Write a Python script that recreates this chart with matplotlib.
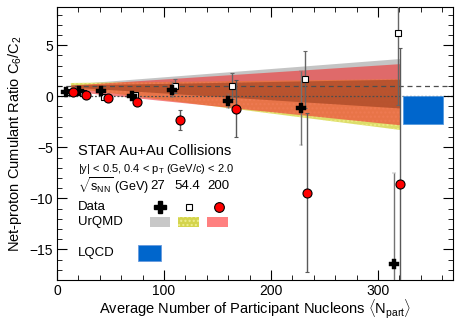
import matplotlib
matplotlib.use("Agg")
import matplotlib.pyplot as plt
import numpy as np
from matplotlib.patches import Rectangle
from matplotlib.ticker import MultipleLocator

plt.rcParams["font.family"] = ["Liberation Sans", "DejaVu Sans"]
plt.rcParams["mathtext.fontset"] = "custom"
plt.rcParams["mathtext.rm"] = "Liberation Sans"
plt.rcParams["mathtext.it"] = "Liberation Sans:italic"
plt.rcParams["axes.unicode_minus"] = True

# 27 GeV data (crosses)
npart_27 = [8, 21, 41, 70, 108, 160, 228, 315]
c6c2_27 = [0.42, 0.52, 0.49, 0.03, 0.66, -0.45, -1.15, -16.4]
err_27 = [0.15, 0.15, 0.2, 0.25, 0.7, 0.7, 3.6, 8.9]

# 54.4 GeV data (open squares)
npart_54 = [12, 24, 44, 73, 110, 164, 232, 319]
c6c2_54 = [0.4, 0.3, -0.1, 0.1, 0.98, 1.0, 1.67, 6.15]
err_54 = [0.15, 0.15, 0.2, 0.3, 0.7, 1.3, 2.8, 7.0]

# 200 GeV data (red circles)
npart_200 = [15, 27, 48, 75, 115, 167, 234, 321]
c6c2_200 = [0.42, 0.17, -0.17, -0.56, -2.3, -1.2, -9.44, -8.6]
err_200 = [0.15, 0.15, 0.2, 0.25, 1.0, 2.8, 7.8, 13.3]

# UrQMD bands: [low, high] at the two ends of the Npart range
band_x = [13, 321]
urqmd_27_lo = [0.9, -1.15]
urqmd_27_hi = [1.2, 3.7]
urqmd_54_lo = [0.8, -3.3]
urqmd_54_hi = [1.3, 1.67]
urqmd_200_lo = [0.5, -2.8]
urqmd_200_hi = [1.1, 3.2]

# LQCD box
lqcd_x = [323, 361]
lqcd_y = [-2.75, 0.0]

fig = plt.figure(figsize=(4.63, 3.23), dpi=100)
ax = fig.add_axes([0.123, 0.133, 0.855, 0.844])

ax.fill_between(band_x, urqmd_27_lo, urqmd_27_hi, color="#c4c4c4", lw=0, zorder=1)
ax.fill_between(band_x, urqmd_54_lo, urqmd_54_hi, facecolor="#d8d850", edgecolor="#eeee88",
                hatch="....", alpha=0.85, lw=0, zorder=1.1)
ax.fill_between(band_x, urqmd_200_lo, urqmd_200_hi, color="#f03434", alpha=0.62, lw=0, zorder=1.2)
# region where all three models overlap
ov_lo = np.maximum(np.maximum(urqmd_27_lo, urqmd_54_lo), urqmd_200_lo)
ov_hi = np.minimum(np.minimum(urqmd_27_hi, urqmd_54_hi), urqmd_200_hi)
ax.fill_between(band_x, ov_lo, ov_hi, color="#b4502c", alpha=0.9, lw=0, zorder=1.3)

ax.add_patch(Rectangle((lqcd_x[0], lqcd_y[0]), lqcd_x[1] - lqcd_x[0], lqcd_y[1] - lqcd_y[0],
                       facecolor="#0066cc", edgecolor="#5599dd", lw=0.6, zorder=2))

ax.axhline(1, color="0.3", ls=(0, (4, 3)), lw=0.9, zorder=1.5)
ax.axhline(0, color="0.3", ls=(0, (1.5, 1.5)), lw=0.9, zorder=1.5)

ax.errorbar(npart_54, c6c2_54, yerr=err_54, fmt="s", ms=4.5, mfc="white", mec="black", mew=0.8,
            ecolor="0.4", elinewidth=1, capsize=1.5, zorder=3)
ax.errorbar(npart_27, c6c2_27, yerr=err_27, fmt="P", ms=7.5, mfc="black", mec="black", mew=0.3,
            ecolor="0.45", elinewidth=1, capsize=1.5, zorder=3.5)
ax.errorbar(npart_200, c6c2_200, yerr=err_200, fmt="o", ms=6.5, mfc="red", mec="black", mew=0.8,
            ecolor="0.35", elinewidth=1, capsize=1.5, zorder=4)

ax.set_xlim(0, 370)
ax.set_ylim(-18, 8.7)
ax.xaxis.set_major_locator(MultipleLocator(100))
ax.xaxis.set_minor_locator(MultipleLocator(20))
ax.yaxis.set_major_locator(MultipleLocator(5))
ax.yaxis.set_minor_locator(MultipleLocator(1))
ax.tick_params(which="both", direction="in", top=True, right=True, labelsize=10)
ax.tick_params(which="major", length=7, pad=3)
ax.tick_params(which="minor", length=3.5)

ax.set_xlabel(r"Average Number of Participant Nucleons $\langle$N$_{\rm part}\rangle$",
              fontsize=10.5, labelpad=0)
ax.set_ylabel(r"Net-proton Cumulant Ratio C$_6$/C$_2$", fontsize=10.5)

# text block / legend
ax.text(20, -5.4, "STAR Au+Au Collisions", fontsize=10.5, va="center")
ax.text(20, -7.1, r"|y| < 0.5, 0.4 < p$_{\rm T}$ (GeV/c) < 2.0", fontsize=8, va="center")
ax.text(20, -8.8, r"$\sqrt{\rm s_{NN}}$ (GeV)", fontsize=9, va="center")
ax.text(94, -8.8, "27", fontsize=9.5, va="center", ha="center")
ax.text(122, -8.8, "54.4", fontsize=9.5, va="center", ha="center")
ax.text(151, -8.8, "200", fontsize=9.5, va="center", ha="center")
ax.text(20, -10.8, "Data", fontsize=9.5, va="center")
ax.plot([96], [-10.8], "P", ms=8, color="black")
ax.plot([123], [-10.8], "s", ms=5, mfc="white", mec="black", mew=0.8)
ax.plot([151], [-10.8], "o", ms=7, mfc="red", mec="black", mew=0.8)
ax.text(20, -12.3, "UrQMD", fontsize=9.5, va="center")
ax.add_patch(Rectangle((87, -12.8), 19, 1.0, facecolor="#c8c8c8", lw=0))
ax.add_patch(Rectangle((113, -12.8), 20, 1.0, facecolor="#d4d44c", edgecolor="#eeee90", hatch="....", lw=0))
ax.add_patch(Rectangle((140, -12.8), 20, 1.0, facecolor="#ff8080", lw=0))
ax.text(20, -15.4, "LQCD", fontsize=9.5, va="center")
ax.add_patch(Rectangle((76, -16.1), 21, 1.5, facecolor="#0066cc", edgecolor="#6699dd", lw=0.6))

fig.savefig("out.png", dpi=100)
